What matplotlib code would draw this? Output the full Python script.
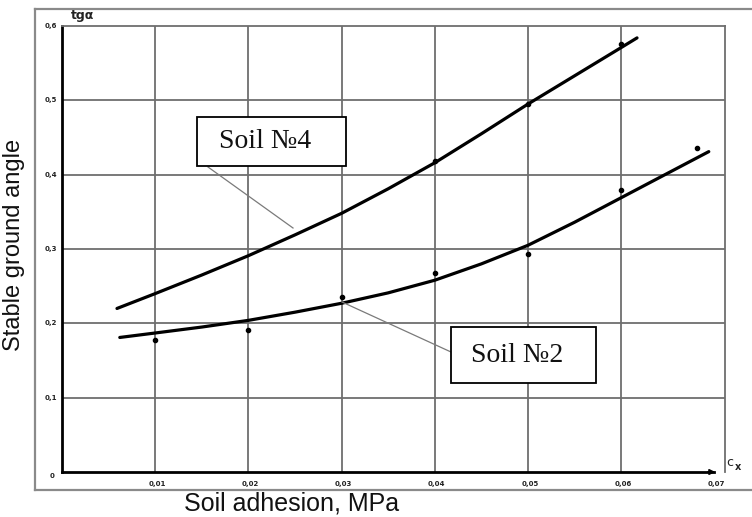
import matplotlib
matplotlib.use("Agg")
import matplotlib.pyplot as plt
from matplotlib.lines import Line2D
from matplotlib.patches import Rectangle

# ---- data ----
x_ticks = [0.01, 0.02, 0.03, 0.04, 0.05, 0.06, 0.07]
x_tick_labels = ["0,01", "0,02", "0,03", "0,04", "0,05", "0,06", "0,07"]
y_ticks = [0.1, 0.2, 0.3, 0.4, 0.5, 0.6]
y_tick_labels = ["0,1", "0,2", "0,3", "0,4", "0,5", "0,6"]

# Soil No4 - measured points and fitted curve
soil4_pts_x = [0.04, 0.05, 0.06]
soil4_pts_y = [0.419, 0.495, 0.576]
soil4_curve_x = [0.0059, 0.01, 0.015, 0.02, 0.025, 0.03, 0.035, 0.04, 0.045, 0.05, 0.055, 0.06, 0.0617]
soil4_curve_y = [0.220, 0.240, 0.265, 0.291, 0.319, 0.348, 0.381, 0.416, 0.455, 0.495, 0.533, 0.571, 0.584]

# Soil No2 - measured points and fitted curve
soil2_pts_x = [0.01, 0.02, 0.03, 0.04, 0.05, 0.06, 0.0681]
soil2_pts_y = [0.178, 0.191, 0.235, 0.268, 0.293, 0.380, 0.436]
soil2_curve_x = [0.0062, 0.01, 0.015, 0.02, 0.025, 0.03, 0.035, 0.04, 0.045, 0.05, 0.055, 0.06, 0.065, 0.0694]
soil2_curve_y = [0.181, 0.187, 0.195, 0.204, 0.215, 0.227, 0.241, 0.258, 0.280, 0.305, 0.336, 0.369, 0.402, 0.431]

W, H = 752, 517
fig = plt.figure(figsize=(W / 100, H / 100), dpi=100)
fig.patch.set_facecolor("white")

def fx(px):
    return px / W

def fy(py):
    return 1 - py / H

# outer frame (left, top, bottom)
frame_col = "#8a8a8a"
fig.add_artist(Line2D([fx(35), fx(35)], [fy(9), fy(490)], color=frame_col, lw=1.6, transform=fig.transFigure))
fig.add_artist(Line2D([fx(35), fx(760)], [fy(9), fy(9)], color=frame_col, lw=1.6, transform=fig.transFigure))
fig.add_artist(Line2D([fx(35), fx(760)], [fy(490), fy(490)], color=frame_col, lw=1.6, transform=fig.transFigure))

ax = fig.add_axes([fx(62), fy(472), (725 - 62) / W, (472 - 26) / H])
ax.set_xlim(0, 0.07114)
ax.set_ylim(0, 0.6)

grid_col = "#6e6e6e"
for xv in x_ticks[:-1]:
    ax.axvline(xv, color=grid_col, lw=1.3, zorder=1)
for yv in y_ticks[:-1]:
    ax.axhline(yv, color=grid_col, lw=1.3, zorder=1)

for s in ["top", "right"]:
    ax.spines[s].set_color(grid_col)
    ax.spines[s].set_linewidth(1.3)
ax.spines["left"].set_color("black")
ax.spines["left"].set_linewidth(2.0)
ax.spines["bottom"].set_visible(False)
ax.plot([0, 0.0700], [0, 0], color="black", lw=2.0, clip_on=False, zorder=3)
ax.annotate("", xy=(0.0704, 0), xytext=(0.0690, 0),
            arrowprops=dict(arrowstyle="-|>", color="black", lw=1.2, mutation_scale=8),
            annotation_clip=False)

ax.set_xticks([])
ax.set_yticks([])

# tick labels
for xv, lab in zip(x_ticks, x_tick_labels):
    ax.text(xv + 0.0002, -0.012, lab, fontsize=5, fontweight="bold", ha="center", va="top",
            color="#222222", family="DejaVu Sans")
for yv, lab in zip(y_ticks, y_tick_labels):
    ax.text(-0.0005, yv, lab, fontsize=5, fontweight="bold", ha="right", va="center",
            color="#222222", family="DejaVu Sans")
ax.text(-0.0008, -0.006, "0", fontsize=5, fontweight="bold", ha="right", va="center", color="#222222")
ax.text(0.0009, 0.605, "tgα", fontsize=9, fontweight="bold", ha="left", va="bottom",
        color="#222222", family="DejaVu Sans")
ax.text(0.0713, 0.004, "c", fontsize=9, ha="left", va="bottom", color="#222222", family="DejaVu Sans")
ax.text(0.0722, 0.0, "x", fontsize=7, fontweight="bold", ha="left", va="bottom", color="#222222",
        family="DejaVu Sans", clip_on=False)

# curves
ax.plot(soil4_curve_x, soil4_curve_y, color="black", lw=2.3, solid_capstyle="round", zorder=4)
ax.plot(soil2_curve_x, soil2_curve_y, color="black", lw=2.3, solid_capstyle="round", zorder=4)
ax.plot(soil4_pts_x, soil4_pts_y, "o", color="black", ms=3, zorder=5)
ax.plot(soil2_pts_x, soil2_pts_y, "o", color="black", ms=3, zorder=5)

# leader lines
leader_col = "#7a7a7a"
fig.add_artist(Line2D([fx(208), fx(293)], [fy(167), fy(228)], color=leader_col, lw=0.9, transform=fig.transFigure))
fig.add_artist(Line2D([fx(342), fx(451)], [fy(302), fy(352)], color=leader_col, lw=0.9, transform=fig.transFigure))

# callout boxes
for (x0, y0, x1, y1, label) in [(197, 117, 346, 166, "Soil №4"), (451, 327, 596, 383, "Soil №2")]:
    fig.add_artist(Rectangle((fx(x0), fy(y1)), fx(x1) - fx(x0), fy(y0) - fy(y1),
                             facecolor="white", edgecolor="black", lw=1.3, transform=fig.transFigure, zorder=6))
    fig.text(fx((x0 + x1) / 2 - 6), fy((y0 + y1) / 2), label, fontsize=20, family="Liberation Serif",
             ha="center", va="center", color="#111111", zorder=7)

# axis titles
fig.text(fx(292), fy(503), "Soil adhesion, MPa", fontsize=18, family="Liberation Sans",
         ha="center", va="center", color="#111111")
fig.text(fx(14), fy(245), "Stable ground angle", fontsize=17, family="Liberation Sans",
         ha="center", va="center", rotation=90, color="#111111")

fig.savefig("out.png", dpi=100, facecolor="white")
